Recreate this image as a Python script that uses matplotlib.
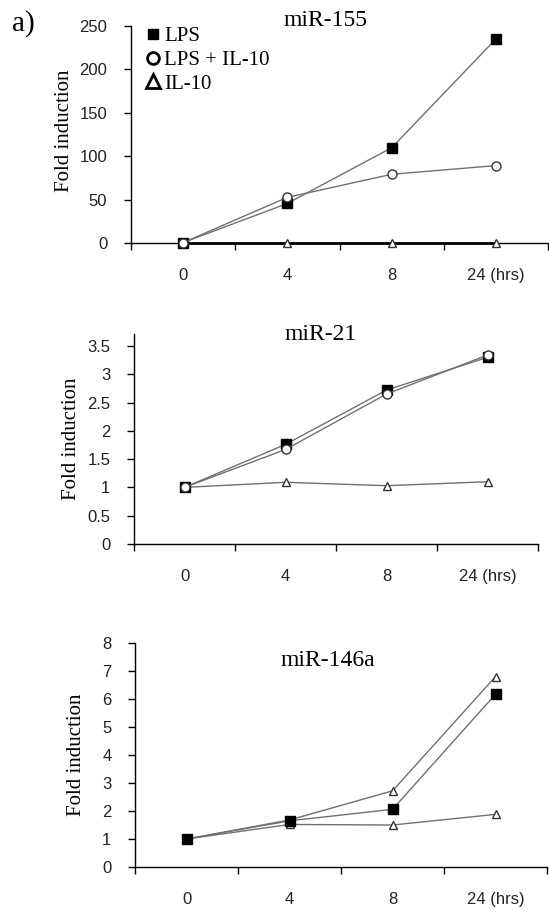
#three panels of fold induction for miR-155, miR-21 and miR-146a

import matplotlib
matplotlib.use('Agg')
import matplotlib.pyplot as plt
from matplotlib.lines import Line2D

#data:
hours = ['0', '4', '8', '24 (hrs)']

mir155_lps = [1, 46, 110, 235]
mir155_lps_il10 = [1, 53, 79.5, 89.5]
mir155_il10 = [1, 1, 1, 1]

mir21_lps = [1, 1.76, 2.72, 3.30]
mir21_lps_il10 = [1, 1.67, 2.65, 3.34]
mir21_il10 = [1, 1.09, 1.03, 1.10]

mir146_lps = [1, 1.65, 2.06, 6.17]
mir146_lps_il10 = [1, 1.68, 2.72, 6.80]
mir146_il10 = [1, 1.52, 1.50, 1.88]

serif = ['Liberation Serif', 'DejaVu Serif']
sans = ['Liberation Sans', 'DejaVu Sans']
grey = '#707070'
edge = '#333333'

plt.close('all')
fig = plt.figure(figsize=(5.49, 9.17), dpi=100)

def setup(ax, ymax, yticks):
    ax.set_xlim(-0.5, len(hours) - 0.5)
    ax.set_ylim(0, ymax)
    for s in ['top', 'right']:
        ax.spines[s].set_visible(False)
    for s in ['left', 'bottom']:
        ax.spines[s].set_linewidth(1.0)
        ax.spines[s].set_color('black')
    ax.set_yticks(yticks)
    ax.set_yticklabels([f'{v:g}' for v in yticks], family=sans, fontsize=12, color='#222222')
    ax.tick_params(axis='y', direction='out', length=5, width=1, pad=12)
    # category boundaries get the ticks, labels sit at category centres
    ax.set_xticks([i - 0.5 for i in range(len(hours) + 1)])
    ax.set_xticklabels([])
    ax.set_xticks(range(len(hours)), minor=True)
    ax.set_xticklabels(hours, minor=True, family=sans, fontsize=12, color='#222222')
    ax.tick_params(axis='x', which='major', direction='out', length=5, width=1)
    ax.tick_params(axis='x', which='minor', length=0, pad=18)
    ax.set_ylabel('Fold induction', family=serif, fontsize=15)

def series(ax, vals, marker, face, ms, color=grey, lw=1.0, z=3):
    ax.plot(range(len(hours)), vals, color=color, lw=lw, marker=marker, ms=ms,
            markerfacecolor=face, markeredgecolor=edge if face == 'white' else 'black',
            markeredgewidth=1.0, zorder=z, clip_on=False)

#panel 1: miR-155
ax1 = fig.add_axes([0.2386, 0.7345, 0.7596, 0.2372])
setup(ax1, 250, [0, 50, 100, 150, 200, 250])
series(ax1, mir155_il10, '^', 'white', 6, color='black', lw=2.0)
series(ax1, mir155_lps, 's', 'black', 6.5)
series(ax1, mir155_lps_il10, 'o', 'white', 6.5)
ax1.yaxis.set_label_coords(-0.137, 0.52)
fig.text(326 / 549, 1 - 20 / 917, 'miR-155', family=serif, fontsize=17, ha='center', va='center')
fig.text(12 / 549, 1 - 24 / 917, 'a)', family=serif, fontsize=21, ha='left', va='center')

handles = [Line2D([], [], ls='none', marker='s', ms=7.5, mfc='black', mec='black'),
           Line2D([], [], ls='none', marker='o', ms=8.5, mfc='white', mec='black', mew=2),
           Line2D([], [], ls='none', marker='^', ms=9.5, mfc='white', mec='black', mew=2)]
ax1.legend(handles, ['LPS', 'LPS + IL-10', 'IL-10'], loc='upper left',
           bbox_to_anchor=(0.017, 1.035), frameon=False, handlelength=0.6,
           handletextpad=0.25, labelspacing=0.2, borderaxespad=0.0,
           prop={'family': serif, 'size': 15})

#panel 2: miR-21
ax2 = fig.add_axes([0.2441, 0.4068, 0.7359, 0.2290])
setup(ax2, 3.712, [0, 0.5, 1, 1.5, 2, 2.5, 3, 3.5])
series(ax2, mir21_il10, '^', 'white', 6)
series(ax2, mir21_lps, 's', 'black', 6.5)
series(ax2, mir21_lps_il10, 'o', 'white', 6.5)
ax2.yaxis.set_label_coords(-0.131, 0.5)
fig.text(321 / 549, 1 - 335 / 917, 'miR-21', family=serif, fontsize=17, ha='center', va='center')

#panel 3: miR-146a
ax3 = fig.add_axes([0.2459, 0.0545, 0.7505, 0.2443])
setup(ax3, 8, [0, 1, 2, 3, 4, 5, 6, 7, 8])
series(ax3, mir146_il10, '^', 'white', 6)
series(ax3, mir146_lps_il10, '^', 'white', 6)
series(ax3, mir146_lps, 's', 'black', 7)
ax3.yaxis.set_label_coords(-0.119, 0.5)
fig.text(328 / 549, 1 - 660 / 917, 'miR-146a', family=serif, fontsize=17, ha='center', va='center')

fig.savefig('out.png', dpi=100, facecolor='white')
